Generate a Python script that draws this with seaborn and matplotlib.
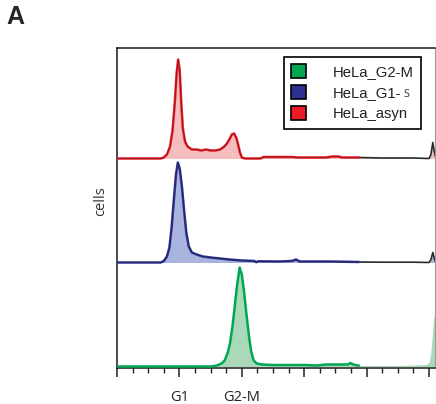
import matplotlib
matplotlib.use("Agg")
import matplotlib.pyplot as plt
from matplotlib.patches import Patch
import numpy as np
import seaborn as sns

# channel positions / heights (heights in panel units, ~100 = tallest peak)
asyn_x = [0, 140, 150, 160, 170, 178, 185, 191, 196, 201, 206, 211, 218, 226, 240, 255, 270, 285,
          300, 315, 330, 340, 350, 360, 368, 375, 382, 388, 394, 400, 410, 460, 470, 560, 580,
          670, 690, 710, 720, 775]
asyn_y = [0, 0, 1, 4, 12, 28, 55, 85, 99, 88, 55, 30, 17, 12, 9, 9, 8, 9,
          8, 8, 9, 11, 14, 19, 24, 25, 21, 14, 6, 1, 0, 0, 1.5, 1.5, 1,
          1, 2, 2, 1, 1]
asyn_tail_x = [775, 850, 950, 1000, 1006, 1012, 1016, 1020]
asyn_tail_y = [1, 0.5, 0.5, 0, 4, 16, 8, 2]

g1s_x = [0, 140, 150, 160, 168, 175, 182, 189, 195, 201, 208, 215, 222, 230, 240, 255, 275, 300,
         330, 360, 400, 440, 446, 452, 520, 560, 574, 585, 680, 775]
g1s_y = [0, 0, 1.5, 6, 15, 35, 62, 88, 100, 94, 76, 52, 30, 16, 10, 8, 6, 5,
         4, 3, 2, 1.5, 0.3, 1.2, 1, 1.5, 3, 1, 1, 0.5]
g1s_tail_x = [775, 850, 950, 1000, 1006, 1012, 1016, 1020]
g1s_tail_y = [0.5, 0.3, 0.3, 0, 3, 10, 5, 1]

g2m_x = [0, 300, 320, 335, 345, 355, 362, 370, 378, 385, 393, 400, 407, 415, 423, 430, 438, 448,
         465, 500, 550, 600, 640, 670, 740, 748, 758, 770, 775]
g2m_y = [0, 0, 1, 3, 6, 14, 23, 40, 62, 82, 99, 92, 75, 52, 30, 15, 6, 3,
         2, 1.5, 1.5, 1.5, 1, 2, 2, 3.5, 2, 1, 1]
g2m_tail_x = [775, 790, 900, 950, 990, 1000, 1005, 1010, 1015, 1020]
g2m_tail_y = [1, 1, 1, 1.5, 2, 4, 12, 30, 49, 52]

names = ["HeLa_G2-M", "HeLa_G1-", "HeLa_asyn"]
line_colors = {"g2m": "#00a651", "g1s": "#2e3192", "asyn": "#ed1c24"}
fill_colors = {"g2m": "#a9d9b9", "g1s": "#a9b4de", "asyn": "#f5bdbd"}
offsets = {"g2m": 0, "g1s": 104, "asyn": 208}

sns.set_style("ticks")
plt.rcParams["font.family"] = ["Open Sans", "DejaVu Sans"]

fig = plt.figure(figsize=(4.36, 4.04), dpi=100)
ax = fig.add_axes([117 / 436, 36 / 404, 318 / 436, 320 / 404])

series = {
    "asyn": (asyn_x, asyn_y, asyn_tail_x, asyn_tail_y),
    "g1s": (g1s_x, g1s_y, g1s_tail_x, g1s_tail_y),
    "g2m": (g2m_x, g2m_y, g2m_tail_x, g2m_tail_y),
}

for key, (x, y, tx, ty) in series.items():
    off = offsets[key]
    x = np.array(x); y = np.array(y) + off
    tx = np.array(tx); ty = np.array(ty) + off
    ax.fill_between(np.r_[x, tx[1:]], off, np.r_[y, ty[1:]], color=fill_colors[key], lw=0, zorder=1)
    if key != "g2m":
        sns.lineplot(x=tx, y=ty, ax=ax, color="#2a2a2a", lw=1.2, estimator=None, sort=False, zorder=2)
    sns.lineplot(x=x, y=y, ax=ax, color=line_colors[key], lw=1.8, estimator=None, sort=False, zorder=3)
    if key != "g2m":
        sns.lineplot(x=x, y=y, ax=ax, color="#1a1a1a", lw=0.45, alpha=0.6, estimator=None, sort=False, zorder=4)

ax.set_xlim(0, 1019)
ax.set_ylim(-1.5, 318.5)
ax.set_yticks([])
ax.set_xticks(range(0, 1001, 200))
ax.set_xticklabels(["", "G1", "G2-M", "", "", ""], fontsize=10.5, color="#222222")
ax.set_xticks(range(0, 1001, 50), minor=True)
ax.tick_params(axis="x", which="major", length=6.5, width=1.1, color="#222222", pad=9)
ax.tick_params(axis="x", which="minor", length=3.6, width=1.0, color="#222222")
ax.set_xlabel("")
ax.set_ylabel("cells", fontsize=10.5, color="#333333")
ax.yaxis.set_label_coords(-9 / 318, (368 - 201) / 320)

for side in ["left", "bottom", "top"]:
    ax.spines[side].set_color("#1a1a1a")
    ax.spines[side].set_linewidth(1.1)
ax.spines["right"].set_color("#9a9a9a")
ax.spines["right"].set_linewidth(0.8)

handles = [Patch(facecolor=line_colors[k], edgecolor="black", linewidth=1.2) for k in ["g2m", "g1s", "asyn"]]
leg = ax.legend(handles, names, loc="upper left", bbox_to_anchor=(284 / 436, 1 - 57 / 404),
                bbox_transform=fig.transFigure, borderaxespad=0, fancybox=False, frameon=True,
                prop={"family": "Liberation Sans", "size": 10.7}, handlelength=1.0, handleheight=1.0,
                handletextpad=1.8, labelspacing=0.42, borderpad=0.5)
leg.get_frame().set_edgecolor("black")
leg.get_frame().set_linewidth(1.2)
leg.get_frame().set_alpha(1)
for t in leg.get_texts():
    t.set_color("#222222")

fig.text(6 / 436, 1 - 24 / 404, "A", fontsize=18, fontweight="bold", family="Liberation Sans",
         va="baseline", ha="left")

# small "S" after "HeLa_G1-", as in the original
fig.canvas.draw()
bb = leg.get_texts()[1].get_window_extent()
fig.text((bb.x1 + 2) / 436, (bb.y0 + 3) / 404, "S", fontsize=8, color="#333333",
         va="baseline", ha="left", family="Open Sans", zorder=10)

fig.savefig("out.png", dpi=100)
